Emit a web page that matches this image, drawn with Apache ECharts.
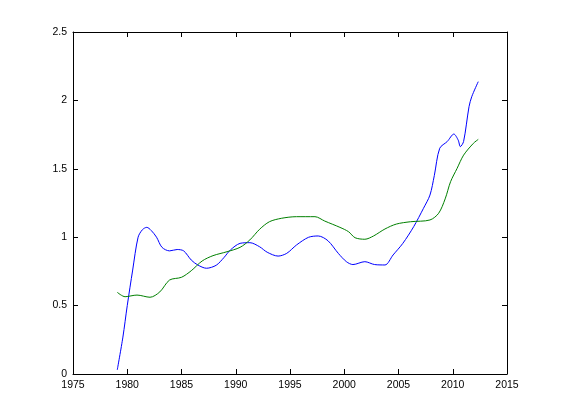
<!DOCTYPE html>
<html>
<head>
<meta charset="utf-8">
<script src="https://cdn.jsdelivr.net/npm/echarts@6/dist/echarts.min.js"></script>
<style>html,body{margin:0;padding:0;background:#fff;}#c{width:561px;height:420px;}</style>
</head>
<body>
<div id="c"></div>
<script>
var blueYears = [1979.08,1979.6,1980.0,1980.5,1981.0,1981.4,1981.8,1982.2,1982.7,1983.2,1983.9,1984.6,1985.2,1985.9,1986.5,1987.3,1988.2,1988.9,1989.5,1990.4,1991.3,1992.2,1992.9,1993.9,1994.7,1995.6,1996.7,1997.6,1998.5,1999.45,2000.2,2000.8,2001.9,2002.8,2003.75,2004.5,2005.4,2006.4,2007.3,2007.9,2008.3,2008.8,2009.5,2010.1,2010.5,2010.7,2011.0,2011.5,2011.75,2012.35];
var blueValues = [0.03,0.27,0.5,0.76,1.0,1.055,1.072,1.05,1.0,0.926,0.90,0.91,0.90,0.833,0.797,0.773,0.795,0.85,0.906,0.955,0.96,0.93,0.89,0.862,0.882,0.943,0.999,1.009,0.974,0.882,0.821,0.80,0.821,0.80,0.797,0.87,0.955,1.077,1.211,1.308,1.45,1.65,1.70,1.754,1.71,1.662,1.70,1.954,2.027,2.137];
var greenYears = [1979.08,1979.8,1980.9,1982.1,1983.0,1983.9,1985.0,1985.9,1986.9,1987.9,1989.2,1990.4,1991.3,1992.2,1993.1,1994.2,1995.6,1997.3,1998.2,1999.6,2000.4,2001.0,2001.9,2002.7,2003.75,2004.8,2006.1,2007.9,2008.7,2009.3,2009.8,2010.4,2011.0,2011.9,2012.35];
var greenValues = [0.597,0.565,0.577,0.561,0.60,0.687,0.707,0.755,0.826,0.865,0.894,0.926,0.98,1.058,1.113,1.138,1.15,1.15,1.118,1.072,1.04,0.996,0.985,1.009,1.06,1.096,1.113,1.126,1.175,1.28,1.406,1.503,1.60,1.686,1.715];
var xTicks = [1975,1980,1985,1990,1995,2000,2005,2010,2015];
var yTicks = [0,0.5,1,1.5,2,2.5];

function pairs(xs, ys){ return xs.map(function(x,i){ return [x, ys[i]]; }); }

var font = {fontFamily: 'Liberation Sans, Arial, sans-serif', fontSize: 10.5, color: '#000'};
var chart = echarts.init(document.getElementById('c'), null, {renderer: 'canvas'});
function xAxisDef(pos, showLabel){
  return {
    type: 'value', position: pos, min: xTicks[0], max: xTicks[xTicks.length-1], interval: 5,
    axisLine: {show: true, onZero: false, lineStyle: {color: '#000', width: 1}},
    axisTick: {show: true, inside: true, length: 5, lineStyle: {color: '#000'}},
    axisLabel: Object.assign({show: showLabel, margin: 6, formatter: function(v){ return String(v); }}, font),
    splitLine: {show: false}
  };
}
function yAxisDef(pos, showLabel){
  return {
    type: 'value', position: pos, min: yTicks[0], max: yTicks[yTicks.length-1], interval: 0.5,
    axisLine: {show: true, onZero: false, lineStyle: {color: '#000', width: 1}},
    axisTick: {show: true, inside: true, length: 5, lineStyle: {color: '#000'}},
    axisLabel: Object.assign({show: showLabel, margin: 6, formatter: function(v){ return String(v); }}, font),
    splitLine: {show: false}
  };
}
chart.setOption({
  animation: false,
  backgroundColor: '#fff',
  grid: {left: 73, right: 54, top: 32, bottom: 46, containLabel: false},
  xAxis: [xAxisDef('bottom', true), xAxisDef('top', false)],
  yAxis: [yAxisDef('left', true), yAxisDef('right', false)],
  series: [
    {type: 'line', data: pairs(blueYears, blueValues), showSymbol: false, smooth: 0.3,
     lineStyle: {color: '#0000ff', width: 1}, itemStyle: {color: '#0000ff'}},
    {type: 'line', data: pairs(greenYears, greenValues), showSymbol: false, smooth: 0.3,
     lineStyle: {color: '#008000', width: 1}, itemStyle: {color: '#008000'}}
  ]
});
</script>
</body>
</html>
